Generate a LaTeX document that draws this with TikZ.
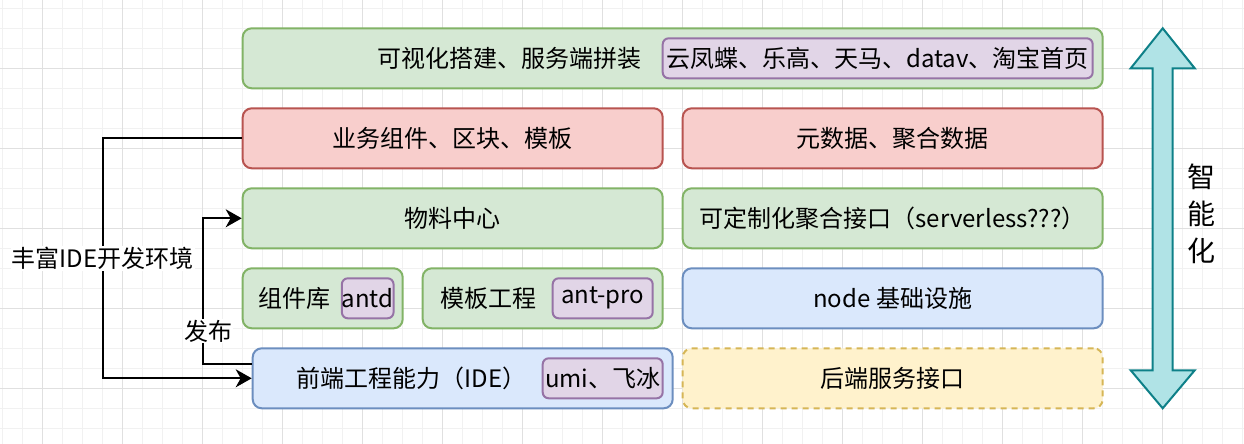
\documentclass[tikz,border=0pt]{standalone}
\usepackage{fontspec}
\setmainfont{Noto Sans CJK SC}
\usepackage{xcolor}
\usetikzlibrary{arrows.meta, positioning}

\definecolor{grnfill}{HTML}{D5E8D4}
\definecolor{grnline}{HTML}{82B366}
\definecolor{redfill}{HTML}{F8CECC}
\definecolor{redline}{HTML}{B85450}
\definecolor{bluefill}{HTML}{DAE8FC}
\definecolor{blueline}{HTML}{6C8EBF}
\definecolor{purpfill}{HTML}{E1D5E7}
\definecolor{purpline}{HTML}{9673A6}
\definecolor{yelfill}{HTML}{FFF2CC}
\definecolor{yelline}{HTML}{D6B656}
\definecolor{tealfill}{HTML}{B0E3E6}
\definecolor{tealline}{HTML}{0E8088}
\definecolor{gridminor}{HTML}{F1F1F1}
\definecolor{gridmajor}{HTML}{E0E0E0}

\begin{document}
\begin{tikzpicture}[x=1pt, y=-1pt,
    every node/.style={font=\fontsize{24}{29}\selectfont, inner sep=0pt},
    box/.style={draw, line width=2pt, rounded corners=9pt, minimum height=60pt, minimum width=420pt},
    gbox/.style={box, fill=grnfill, draw=grnline},
    rbox/.style={box, fill=redfill, draw=redline},
    bbox/.style={box, fill=bluefill, draw=blueline},
    ybox/.style={box, fill=yelfill, draw=yelline, dash pattern=on 6pt off 5pt},
    tag/.style={draw=purpline, fill=purpfill, line width=2pt, rounded corners=6pt, minimum height=40pt},
    conn/.style={line width=2pt},
    tip/.style={-{Stealth[length=16pt, width=18pt, inset=5pt]}},
    lbl/.style={fill=white, inner sep=1pt}]
                        \useasboundingbox (-2.7, -8.3) rectangle (1241.3, 435.7);
                        \fill[white] (-2.7, -8.3) rectangle (1241.3, 435.7);
                        \foreach \gx in {0, 20, ..., 1240}
                            \draw[gridminor, line width=1pt] (\gx, -8.3) -- (\gx, 435.7);
                        \foreach \gy in {0, 20, ..., 420}
                            \draw[gridminor, line width=1pt] (-2.7, \gy) -- (1241.3, \gy);
                        \foreach \gx in {40, 120, ..., 1200}
                            \draw[gridmajor, line width=1pt] (\gx, -8.3) -- (\gx, 435.7);
                        \foreach \gy in {60, 140, ..., 380}
                            \draw[gridmajor, line width=1pt] (-2.7, \gy) -- (1241.3, \gy);

                        \node[gbox, minimum width=860pt] (vis) at (670, 50) {};
                        \node (vistxt) at (507, 50) {可视化搭建、服务端拼装};
                        \node[tag, minimum width=430pt] (vistag) at (875, 50) {云凤蝶、乐高、天马、datav、淘宝首页};

                        \node[rbox] (biz) at (450, 130) {业务组件、区块、模板};
                        \node[rbox] (meta) at (890, 130) {元数据、聚合数据};

                        \node[gbox] (mat) at (450, 210) {物料中心};
                        \node[gbox] (faas) at (890, 210) {可定制化聚合接口（serverless???）};

                        \node[gbox, minimum width=160pt] (lib) at (320, 290) {};
                        \node (libtxt) at (291.5, 290) {组件库};
                        \node[tag, minimum width=50pt] (antd) at (365, 290) {antd};
                        \node[gbox, minimum width=240pt] (tpl) at (540, 290) {};
                        \node (tpltxt) at (486, 290) {模板工程};
                        \node[tag, minimum width=100pt] (antpro) at (600, 290) {ant-pro};
                        \node[bbox] (infra) at (890, 290) {node 基础设施};

                        \node[bbox] (fe) at (460, 370) {};
                        \node (fetxt) at (408.7, 370) {前端工程能力（IDE）};
                        \node[tag, minimum width=120pt] (umi) at (600, 370) {umi、飞冰};
                        \node[ybox] (be) at (890, 370) {后端服务接口};

                        \draw[tealline, fill=tealfill, line width=2pt, line join=miter]
                        (1160, 20) -- (1192, 60) -- (1170, 60) -- (1170, 362) -- (1192, 362)
                        -- (1160, 400) -- (1128, 362) -- (1150, 362) -- (1150, 60) -- (1128, 60) -- cycle;
                        \node[font=\fontsize{28}{37}\selectfont, align=center] (smart) at (1199, 205.7) {智\\能\\化};

                        \coordinate (ideturn) at (100, 130);
                        \coordinate (pubturn) at (200, 356);
                        \draw[conn, tip] (biz.west) -- (ideturn) |- (fe.west);
                        \draw[conn, tip] ([yshift=14pt]fe.west) -- (pubturn) |- (mat.west);
                        \node[lbl] (ide) at (100, 250) {丰富IDE开发环境};
                        \node[lbl] (pub) at (205.3, 322.7) {发布};
                    \end{tikzpicture}
\end{document}
